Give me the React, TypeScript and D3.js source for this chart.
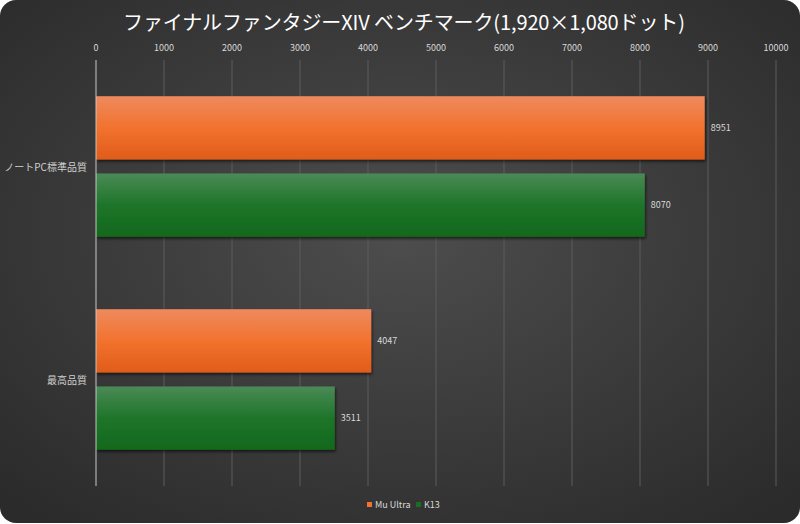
import React, { useEffect, useRef } from 'react';
import * as d3 from 'd3';

const categories = ['ノートPC標準品質', '最高品質'];
const seriesNames = ['Mu Ultra', 'K13'];
const muUltra = [8951, 4047];
const k13 = [8070, 3511];
const xTicks = [0, 1000, 2000, 3000, 4000, 5000, 6000, 7000, 8000, 9000, 10000];
const title = 'ファイナルファンタジーXIV ベンチマーク(1,920×1,080ドット)';

const W = 800;
const H = 524;
const FONT = "'Noto Sans CJK JP', 'Noto Sans', sans-serif";

const App: React.FC = () => {
    const svgRef = useRef<SVGSVGElement | null>(null);

    useEffect(() => {
        if (!svgRef.current) return;
        const svg = d3.select(svgRef.current);
        svg.selectAll('*').remove();

        const margin = { top: 60, right: 24, bottom: 38, left: 96 };
        const x = d3.scaleLinear().domain([0, 10000]).range([margin.left, 776]);
        const y0 = d3.scaleBand<string>()
            .domain(categories)
            .range([margin.top, H - margin.bottom])
            .paddingInner(0.34)
            .paddingOuter(0.17);
        const y1 = d3.scaleBand<string>()
            .domain(seriesNames)
            .range([0, y0.bandwidth()])
            .paddingInner(0.18);

        const defs = svg.append('defs');
        const bg = defs.append('radialGradient').attr('id', 'bg')
            .attr('cx', '50%').attr('cy', '45%').attr('r', '70%');
        bg.append('stop').attr('offset', '0%').attr('stop-color', '#4d4d4d');
        bg.append('stop').attr('offset', '100%').attr('stop-color', '#2b2b2b');

        const colors: Record<string, string[]> = {
            'Mu Ultra': ['#ee8a5e', '#f2722e', '#e05c1a'],
            'K13': ['#4b8a57', '#1e7529', '#12681d'],
        };
        const legendColor: Record<string, string> = { 'Mu Ultra': '#f2722e', 'K13': '#1a6e24' };
        seriesNames.forEach((s, i) => {
            const g = defs.append('linearGradient').attr('id', 'g' + i)
                .attr('x1', 0).attr('y1', 0).attr('x2', 0).attr('y2', 1);
            g.append('stop').attr('offset', '0%').attr('stop-color', colors[s][0]);
            g.append('stop').attr('offset', '50%').attr('stop-color', colors[s][1]);
            g.append('stop').attr('offset', '100%').attr('stop-color', colors[s][2]);
        });
        const sh = defs.append('filter').attr('id', 'sh')
            .attr('x', '-5%').attr('y', '-10%').attr('width', '110%').attr('height', '130%');
        sh.append('feDropShadow').attr('dx', 1).attr('dy', 2).attr('stdDeviation', 1.5)
            .attr('flood-color', '#000').attr('flood-opacity', 0.6);

        svg.append('rect').attr('x', 0).attr('y', 0).attr('width', W).attr('height', H)
            .attr('fill', '#ffffff');
        svg.append('rect').attr('x', 0).attr('y', 0).attr('width', W).attr('height', H - 1)
            .attr('rx', 16).attr('fill', 'url(#bg)');

        svg.append('text')
            .attr('x', W / 2 + 4).attr('y', 30)
            .attr('text-anchor', 'middle')
            .attr('fill', '#ffffff')
            .attr('font-family', FONT)
            .attr('font-size', 20)
            .attr('textLength', 562)
            .text(title);

        // grid lines
        svg.append('g').selectAll('line')
            .data(xTicks.slice(1))
            .join('line')
            .attr('x1', (d) => x(d)).attr('x2', (d) => x(d))
            .attr('y1', margin.top).attr('y2', H - margin.bottom)
            .attr('stroke', '#5c5c5c').attr('stroke-width', 1);

        // top tick labels
        svg.append('g').selectAll('text')
            .data(xTicks)
            .join('text')
            .attr('x', (d) => x(d)).attr('y', 51)
            .attr('text-anchor', 'middle')
            .attr('fill', '#d9d9d9')
            .attr('font-family', FONT)
            .attr('font-size', 9)
            .text((d) => String(d));

        const series = [muUltra, k13];
        categories.forEach((c, ci) => {
            const gy = y0(c) ?? 0;
            seriesNames.forEach((s, si) => {
                const v = series[si][ci];
                const by = gy + (y1(s) ?? 0);
                svg.append('rect')
                    .attr('x', x(0)).attr('y', by)
                    .attr('width', x(v) - x(0)).attr('height', y1.bandwidth())
                    .attr('fill', `url(#g${si})`)
                    .attr('filter', 'url(#sh)');
                svg.append('text')
                    .attr('x', x(v) + 6).attr('y', by + y1.bandwidth() / 2 + 3)
                    .attr('fill', '#d9d9d9')
                    .attr('font-family', FONT)
                    .attr('font-size', 9)
                    .text(String(v));
            });
            svg.append('text')
                .attr('x', 87).attr('y', gy + y0.bandwidth() / 2 + 4)
                .attr('text-anchor', 'end')
                .attr('fill', '#d0d0d0')
                .attr('font-family', FONT)
                .attr('font-size', 10)
                .text(c);
        });

        // axis line
        svg.append('line')
            .attr('x1', x(0)).attr('x2', x(0))
            .attr('y1', margin.top).attr('y2', H - margin.bottom)
            .attr('stroke', '#c8c8c8').attr('stroke-width', 1);

        // legend
        const legend = svg.append('g').attr('transform', 'translate(367,507)');
        const items = [{ s: seriesNames[0], dx: 0 }, { s: seriesNames[1], dx: 49 }];
        items.forEach(({ s, dx }) => {
            legend.append('rect').attr('x', dx).attr('y', -5).attr('width', 5).attr('height', 5)
                .attr('fill', legendColor[s]);
            legend.append('text').attr('x', dx + 8).attr('y', 0.5)
                .attr('fill', '#d9d9d9')
                .attr('font-family', FONT)
                .attr('font-size', 9)
                .text(s);
        });
    }, []);

    return (
        <div style={{ position: 'absolute', left: 0, top: 0 }}>
            <svg ref={svgRef} width={W} height={H}></svg>
        </div>
    );
};

export default App;
